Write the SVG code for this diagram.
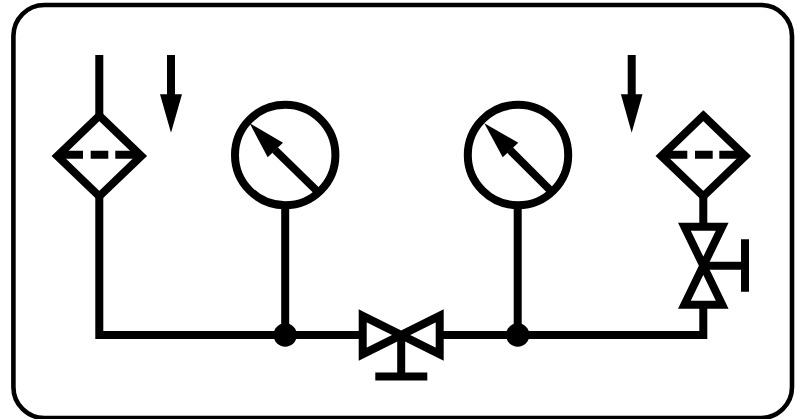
<svg xmlns="http://www.w3.org/2000/svg" width="798" height="419" viewBox="0 0 798 419">
  <style>
    .s { fill: none; stroke: #000; stroke-width: 8; stroke-linejoin: miter; stroke-miterlimit: 10; }
    .f { fill: #000; stroke: none; }
    .v { fill: #fff; stroke: #000; stroke-width: 8; stroke-miterlimit: 10; }
  </style>
  <rect width="798" height="419" fill="#fff"/>
  <rect id="frame" x="13.4" y="5" width="778.6" height="413" rx="31" ry="31" fill="#fff" stroke="#000" stroke-width="4.6"/>
  <g id="connectors">
    <path class="s" d="M99.3 55V116M99.3 196V335H703.3V304M703.3 196V227M285.2 205V335M517.7 205V335"/>
  </g>
  <g id="filter-left">
    <path class="s" d="M99.3 115.7L141.3 156L99.3 196.3L57.3 156Z"/>
    <path class="s" d="M58 154.8H83M90.7 154.8H108.3M115.3 154.8H141"/>
  </g>
  <g id="filter-right">
    <path class="s" d="M703.3 115.7L745.3 156L703.3 196.3L661.3 156Z"/>
    <path class="s" d="M662 154.8H687.3M695 154.8H712.7M719.3 154.8H745"/>
  </g>
  <g id="flow-arrow-left">
    <path class="s" d="M171 55V96"/>
    <path class="f" d="M160 94.3H182L171 132.7Z"/>
  </g>
  <g id="flow-arrow-right">
    <path class="s" d="M631.7 55V96"/>
    <path class="f" d="M620.9 94.3H642.5L631.7 132.7Z"/>
  </g>
  <g id="gauge-left">
    <circle class="s" cx="285.2" cy="155" r="50.2"/>
    <path class="s" d="M275 150L317 191"/>
    <path class="f" d="M249.7 123.3L283 142.7L267.7 157.3Z"/>
  </g>
  <g id="gauge-right">
    <circle class="s" cx="518" cy="155" r="50.2"/>
    <path class="s" d="M510 150L551 191"/>
    <path class="f" d="M484.3 123.3L518.3 142.7L502.7 157.3Z"/>
  </g>
  <g id="junction-left"><circle class="f" cx="285.2" cy="335" r="11.7"/></g>
  <g id="junction-right"><circle class="f" cx="517.7" cy="335" r="11.7"/></g>
  <g id="valve-horizontal">
    <path class="v" d="M362.7 315.8L439.7 354.2V315.8L362.7 354.2Z"/>
    <path class="s" d="M401.2 335V376.5M375.3 376.5H427.3"/>
  </g>
  <g id="valve-vertical">
    <path class="v" d="M684.4 226.7H722.2L684.4 304.7H722.2Z"/>
    <path class="s" d="M703.3 265.7H745M745 239.3V291.7"/>
  </g>
</svg>
